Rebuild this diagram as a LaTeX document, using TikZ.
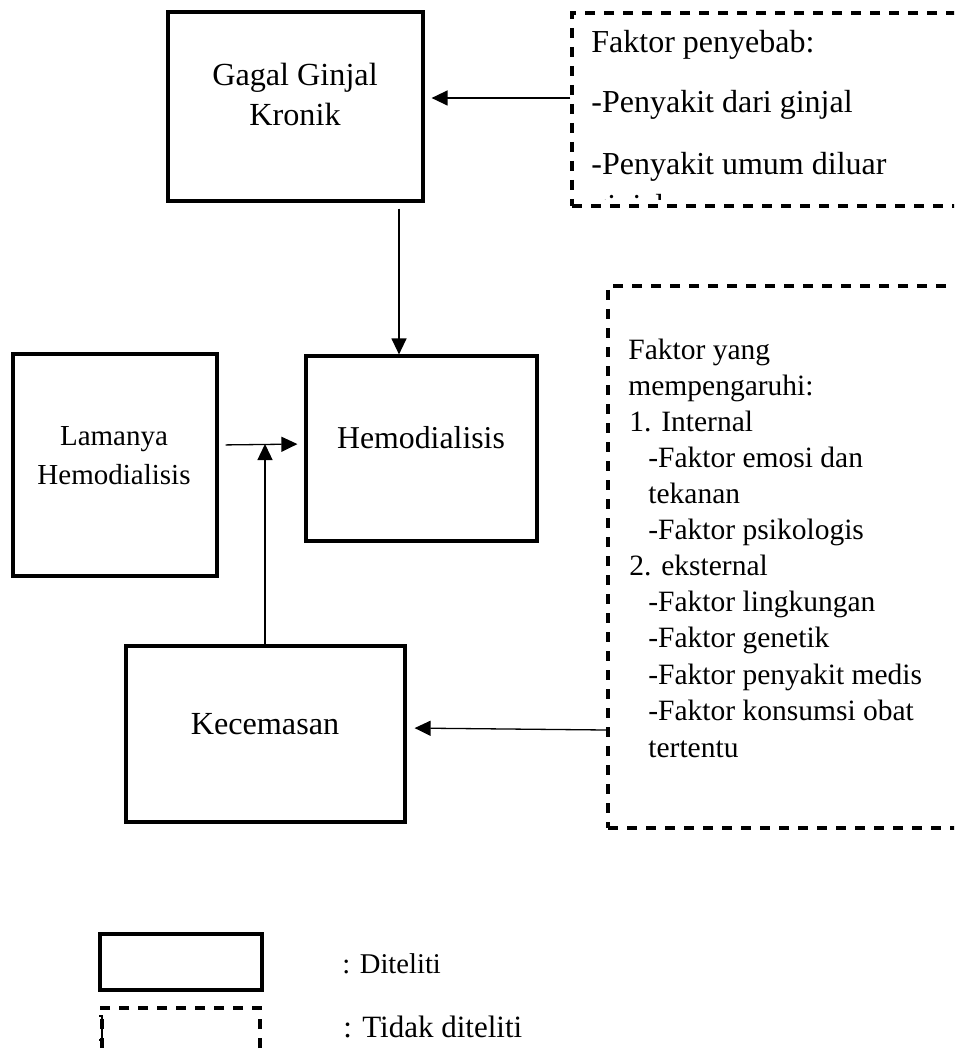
\documentclass[tikz,border=0pt]{standalone}
\usepackage{fontspec}
\setmainfont{Liberation Serif}
\usetikzlibrary{arrows.meta}

\tikzset{
  box/.style={draw, line width=1.6pt, inner sep=0pt},
  dbox/.style={draw, line width=1.6pt, dash pattern=on 5pt off 4.5pt, inner sep=0pt},
  txt/.style={anchor=base, inner sep=0pt, font=\fontsize{14.75}{18}\selectfont},
  txtl/.style={txt, anchor=base west},
  arr/.style={-{Triangle[length=8pt,width=7.5pt]}, line width=0.65pt}
}

\begin{document}
\begin{tikzpicture}[x=0.5pt,y=-0.5pt]
\useasboundingbox (0,0) rectangle (954,1053);
\clip (0,0) rectangle (954,1053);

% boxes
\node[box, minimum width=127.5pt, minimum height=94.5pt] (gagal) at (295.5,106.5) {};
\node[box, minimum width=115.5pt, minimum height=92.5pt] (hemo) at (421.5,448.5) {};
\node[box, minimum width=102pt, minimum height=111pt] (lamanya) at (115,465) {};
\node[box, minimum width=139.5pt, minimum height=88pt] (kecemasan) at (265.5,734) {};
\node[dbox, minimum width=214pt, minimum height=96.5pt] (penyebab) at (786,109.5) {};
\node[dbox, minimum width=196pt, minimum height=271pt] (pengaruh) at (804,557) {};

% box texts
\node[txt, font=\fontsize{16.1}{19}\selectfont] (gagal1) at (295,86) {Gagal Ginjal};
\node[txt, font=\fontsize{16.1}{19}\selectfont] (gagal2) at (295,126) {Kronik};
\node[txt, font=\fontsize{15.9}{19}\selectfont] (hemo1) at (421,448) {Hemodialisis};
\node[txt, font=\fontsize{14.5}{17}\selectfont] (lama1) at (114,445) {Lamanya};
\node[txt, font=\fontsize{14.5}{17}\selectfont] (lama2) at (114,484) {Hemodialisis};
\node[txt, font=\fontsize{16.1}{19}\selectfont] (cemas1) at (265,734) {Kecemasan};

% faktor penyebab
\node[txtl, font=\fontsize{16}{19}\selectfont] (sebab1) at (591,53) {Faktor penyebab:};
\node[txtl, font=\fontsize{16}{19}\selectfont] (sebab2) at (591,113) {-Penyakit dari ginjal};
\node[txtl, font=\fontsize{16}{19}\selectfont] (sebab3) at (591,175) {-Penyakit umum diluar};
\begin{scope}
\clip (572,13) rectangle (1000,200);
\node[txtl, font=\fontsize{16}{19}\selectfont] (sebab4) at (591,217) {ginjal};
\end{scope}

% faktor yang mempengaruhi
\node[txtl] (pengaruh1) at (628,359) {Faktor yang};
\node[txtl] (pengaruh2) at (628,395) {mempengaruhi:};
\node[txtl] (pengaruh3) at (629,431) {1. Internal};
\node[txtl] (pengaruh4) at (648,467) {-Faktor emosi dan};
\node[txtl] (pengaruh5) at (648,503) {tekanan};
\node[txtl] (pengaruh6) at (648,539) {-Faktor psikologis};
\node[txtl] (pengaruh7) at (629,575) {2. eksternal};
\node[txtl] (pengaruh8) at (648,611) {-Faktor lingkungan};
\node[txtl] (pengaruh9) at (648,647) {-Faktor genetik};
\node[txtl] (pengaruh10) at (648,684) {-Faktor penyakit medis};
\node[txtl] (pengaruh11) at (648,720) {-Faktor konsumsi obat};
\node[txtl] (pengaruh12) at (648,757) {tertentu};

% arrows
\coordinate (join) at (265,444);
\draw[arr, shorten >=3.5pt] (penyebab.west |- 0,98) -- (gagal.east |- 0,98);
\draw[arr, shorten <=3pt] (gagal.south -| 399,0) -- (hemo.north -| 399,0);
\draw[arr, shorten <=3.5pt, shorten >=3.5pt] (lamanya.east |- 0,445) -- (hemo.west |- 0,444);
\draw[arr] (kecemasan.north -| join) -- (join);
\draw[arr, shorten >=4pt] (pengaruh.west |- 0,730) -- (kecemasan.east |- 0,728);

% legend
\node[box, minimum width=81pt, minimum height=28pt] (legsolid) at (181,962) {};
\node[dbox, minimum width=79pt, minimum height=36pt] (legdash) at (181,1044) {};
\draw[line width=0.8pt] (99,1016) -- (102,1016) -- (102,1040) -- (99,1040);
\node[anchor=base west, inner sep=0pt, font=\fontsize{14.3}{17}\selectfont] (ketsolid) at (342,973) {: Diteliti};
\node[anchor=base west, inner sep=0pt, font=\fontsize{15.5}{18}\selectfont] (ketdash) at (343,1037) {: Tidak diteliti};
\end{tikzpicture}
\end{document}
